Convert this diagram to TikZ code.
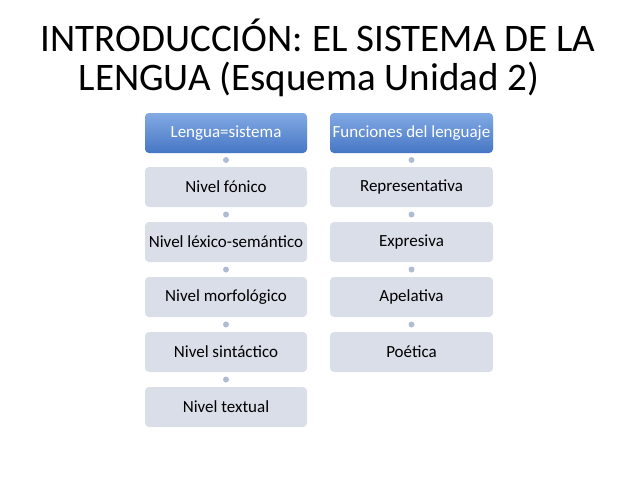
\documentclass[tikz,border=0pt]{standalone}
\usepackage{fontspec}
\setmainfont{Carlito}
\tikzset{every picture/.style={line width=0.75pt}}
\definecolor{boxgray}{RGB}{218,222,233}
\definecolor{dotgray}{RGB}{176,188,210}
\definecolor{headtop}{RGB}{130,170,228}
\definecolor{headbot}{RGB}{70,118,196}
\tikzset{
  levelbox/.style={rounded corners=4pt, fill=boxgray, minimum width=162pt, minimum height=40pt, inner sep=0pt, font=\fontsize{17}{20}\selectfont},
  headbox/.style={levelbox, top color=headtop, bottom color=headbot, text=white},
  linkdot/.style={circle, fill=dotgray, minimum size=6pt, inner sep=0pt}
}
\begin{document}
\begin{tikzpicture}[x=1pt,y=1pt,yscale=-1,xscale=1]
\useasboundingbox (0,0) rectangle (638,479);

% Title
\node [anchor=base] (title1) at (318,51) {\fontsize{39}{46}\selectfont INTRODUCCIÓN: EL SISTEMA DE LA};
\node [anchor=base] (title2) at (309,90) {\fontsize{39}{46}\selectfont LENGUA (Esquema Unidad 2)};

% Left column
\node [headbox]  (lengua)   at (226,133) {Lengua=sistema};
\node [levelbox] (fonico)   at (226,187) {Nivel fónico};
\node [levelbox] (lexico)   at (226,242) {Nivel léxico-semántico};
\node [levelbox] (morfo)    at (226,297) {Nivel morfológico};
\node [levelbox] (sintac)   at (226,352) {Nivel sintáctico};
\node [levelbox] (textual)  at (226,407) {Nivel textual};

% Right column
\node [headbox, minimum width=163pt]  (funciones) at (411.5,133) {Funciones del lenguaje};
\node [levelbox, minimum width=163pt] (repre)     at (411.5,187) {Representativa};
\node [levelbox, minimum width=163pt] (expre)     at (411.5,242) {Expresiva};
\node [levelbox, minimum width=163pt] (apela)     at (411.5,297) {Apelativa};
\node [levelbox, minimum width=163pt] (poetica)   at (411.5,352) {Poética};

% Links
\foreach \a/\b in {lengua/fonico, fonico/lexico, lexico/morfo, morfo/sintac, sintac/textual,
                   funciones/repre, repre/expre, expre/apela, apela/poetica}
  \path (\a.south) -- (\b.north) node [midway, linkdot] {};
\end{tikzpicture}
\end{document}
